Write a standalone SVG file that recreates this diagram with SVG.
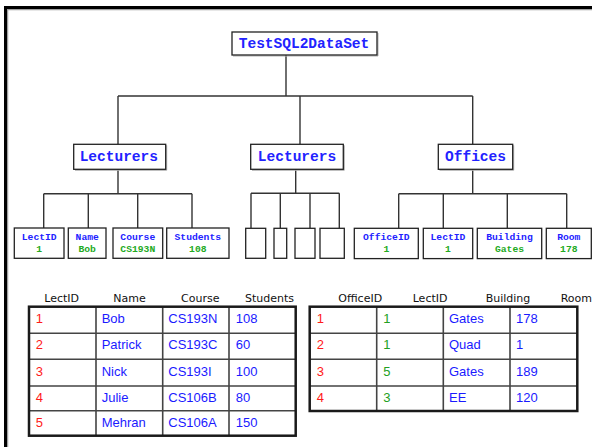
<svg xmlns="http://www.w3.org/2000/svg" width="592" height="447" viewBox="0 0 592 447">
  <style>
    .box { fill: #ffffff; stroke: #222222; stroke-width: 1.3; }
    .shadow { fill: none; stroke: #b0b0b0; stroke-width: 1; }
    .wire { fill: none; stroke: #333333; stroke-width: 1.4; }
    .title { font-family: "Liberation Mono", "Courier New", monospace; font-weight: bold; fill: #2222ff; text-anchor: middle; }
    .big { font-size: 14.5px; }
    .lbl { font-size: 9.7px; fill: #2222ff; }
    .val { font-size: 9.7px; fill: #22aa22; }
    .hdr { font-family: "DejaVu Sans", sans-serif; font-size: 11px; fill: #111111; }
    .cell { font-family: "Liberation Sans", Arial, sans-serif; font-size: 13px; }
    .red { fill: #ff1a1a; }
    .blue { fill: #1a1aff; }
    .green { fill: #22a022; }
    .tframe { fill: none; stroke: #1a1a1a; stroke-width: 2.5; }
    .tline { fill: none; stroke: #444444; stroke-width: 1.6; }
  </style>

  <rect width="592" height="447" fill="#ffffff"/>

  <!-- page frame (top and left edges only) -->
  <path d="M7.5,447 V9.5 H592" fill="none" stroke="#a0a0a0" stroke-width="1.5"/>
  <path d="M5.5,447 V7.5 H592" fill="none" stroke="#000000" stroke-width="3"/>

  <!-- connectors -->
  <g id="connectors" class="wire">
    <path d="M286,55 V96"/>
    <path d="M118,96 H472.7"/>
    <path d="M118,96 V144.3"/>
    <path d="M300,96 V144.3"/>
    <path d="M472.7,96 V144.3"/>

    <path d="M118,169.3 V193.7"/>
    <path d="M43.7,193.7 H192"/>
    <path d="M43.7,193.7 V228"/>
    <path d="M88.3,193.7 V228"/>
    <path d="M137.7,193.7 V228"/>
    <path d="M192,193.7 V228"/>

    <path d="M295.7,169.3 V193.3"/>
    <path d="M251,193.3 H339.3"/>
    <path d="M251,193.3 V228.3"/>
    <path d="M280.3,193.3 V228.3"/>
    <path d="M310,193.3 V228.3"/>
    <path d="M339.3,193.3 V228.3"/>

    <path d="M472.7,169.3 V193.7"/>
    <path d="M398.7,193.7 H566.7"/>
    <path d="M398.7,193.7 V228.3"/>
    <path d="M443.3,193.7 V228.3"/>
    <path d="M507.3,193.7 V228.3"/>
    <path d="M566.7,193.7 V228.3"/>
  </g>

  <!-- root -->
  <g id="root">
    <path class="shadow" d="M233,56 H378 V33"/>
    <rect class="box" x="232" y="32" width="145" height="23"/>
    <text class="title big" x="304" y="48.3">TestSQL2DataSet</text>
  </g>

  <!-- tables -->
  <g id="lecturers-1">
    <path class="shadow" d="M75,170.3 H166.7 V145.3"/>
    <rect class="box" x="73.7" y="144.3" width="92" height="25"/>
    <text class="title big" x="118.8" y="161">Lecturers</text>
  </g>
  <g id="lecturers-2">
    <path class="shadow" d="M252,170.3 H344.3 V145.3"/>
    <rect class="box" x="250.7" y="144.3" width="92.6" height="25"/>
    <text class="title big" x="297" y="161">Lecturers</text>
  </g>
  <g id="offices">
    <path class="shadow" d="M439.5,170.3 H513.7 V145.3"/>
    <rect class="box" x="438.3" y="144.3" width="74.4" height="25"/>
    <text class="title big" x="475.5" y="161">Offices</text>
  </g>

  <!-- columns of Lecturers -->
  <g id="col-lectid">
    <rect class="box" x="14.3" y="228" width="49.7" height="30.3"/>
    <text class="title lbl" x="39.2" y="240">LectID</text>
    <text class="title val" x="39.2" y="251.7">1</text>
  </g>
  <g id="col-name">
    <rect class="box" x="68.3" y="228" width="37.7" height="30.3"/>
    <text class="title lbl" x="87.2" y="240">Name</text>
    <text class="title val" x="87.2" y="251.7">Bob</text>
  </g>
  <g id="col-course">
    <rect class="box" x="113" y="228" width="49.7" height="30.3"/>
    <text class="title lbl" x="137.8" y="240">Course</text>
    <text class="title val" x="137.8" y="251.7">CS193N</text>
  </g>
  <g id="col-students">
    <rect class="box" x="166.7" y="228" width="62.3" height="30.3"/>
    <text class="title lbl" x="197.8" y="240">Students</text>
    <text class="title val" x="197.8" y="251.7">108</text>
  </g>

  <!-- empty columns -->
  <g id="col-empty-1"><rect class="box" x="245.7" y="228.3" width="20" height="30"/></g>
  <g id="col-empty-2"><rect class="box" x="274" y="228.3" width="12.7" height="30"/></g>
  <g id="col-empty-3"><rect class="box" x="295" y="228.3" width="20" height="30"/></g>
  <g id="col-empty-4"><rect class="box" x="320" y="228.3" width="24.3" height="30"/></g>

  <!-- columns of Offices -->
  <g id="col-officeid">
    <rect class="box" x="354.3" y="228.3" width="64" height="30.3"/>
    <text class="title lbl" x="386.3" y="240">OfficeID</text>
    <text class="title val" x="386.3" y="251.7">1</text>
  </g>
  <g id="col-office-lectid">
    <rect class="box" x="423.3" y="228.3" width="49.4" height="30.3"/>
    <text class="title lbl" x="448" y="240">LectID</text>
    <text class="title val" x="448" y="251.7">1</text>
  </g>
  <g id="col-building">
    <rect class="box" x="477.3" y="228.3" width="64.4" height="30.3"/>
    <text class="title lbl" x="509.5" y="240">Building</text>
    <text class="title val" x="509.5" y="251.7">Gates</text>
  </g>
  <g id="col-room">
    <rect class="box" x="546.3" y="228.3" width="45" height="30.3"/>
    <text class="title lbl" x="568.8" y="240">Room</text>
    <text class="title val" x="568.8" y="251.7">178</text>
  </g>

  <!-- Lecturers data grid -->
  <g id="grid-lecturers">
    <text class="hdr" x="44.3" y="301.7">LectID</text>
    <text class="hdr" x="113.3" y="301.7">Name</text>
    <text class="hdr" x="181" y="301.7">Course</text>
    <text class="hdr" x="245" y="301.7">Students</text>

    <path class="tline" d="M96,306.7 V435.7 M162.7,306.7 V435.7 M229,306.7 V435.7"/>
    <path class="tline" d="M29,333.3 H295.7 M29,359.3 H295.7 M29,386 H295.7 M29,410.7 H295.7"/>
    <rect class="tframe" x="29" y="306.7" width="266.7" height="129"/>

    <g class="cell">
      <text class="red" x="35.7" y="323.3">1</text>
      <text class="blue" x="101.7" y="323.3">Bob</text>
      <text class="blue" x="168.3" y="323.3">CS193N</text>
      <text class="blue" x="235.7" y="323.3">108</text>

      <text class="red" x="35.7" y="349">2</text>
      <text class="blue" x="101.7" y="349">Patrick</text>
      <text class="blue" x="168.3" y="349">CS193C</text>
      <text class="blue" x="235.7" y="349">60</text>

      <text class="red" x="35.7" y="376">3</text>
      <text class="blue" x="101.7" y="376">Nick</text>
      <text class="blue" x="168.3" y="376">CS193I</text>
      <text class="blue" x="235.7" y="376">100</text>

      <text class="red" x="35.7" y="401.7">4</text>
      <text class="blue" x="101.7" y="401.7">Julie</text>
      <text class="blue" x="168.3" y="401.7">CS106B</text>
      <text class="blue" x="235.7" y="401.7">80</text>

      <text class="red" x="35.7" y="426.7">5</text>
      <text class="blue" x="101.7" y="426.7">Mehran</text>
      <text class="blue" x="168.3" y="426.7">CS106A</text>
      <text class="blue" x="235.7" y="426.7">150</text>
    </g>
  </g>

  <!-- Offices data grid -->
  <g id="grid-offices">
    <text class="hdr" x="338.3" y="301.7">OfficeID</text>
    <text class="hdr" x="412.7" y="301.7">LectID</text>
    <text class="hdr" x="485.7" y="301.7">Building</text>
    <text class="hdr" x="560.7" y="301.7">Room</text>

    <path class="tline" d="M376.7,306.7 V411 M443.3,306.7 V411 M510,306.7 V411"/>
    <path class="tline" d="M309.7,333.3 H577.3 M309.7,359.3 H577.3 M309.7,386 H577.3"/>
    <rect class="tframe" x="309.7" y="306.7" width="267.6" height="104.3"/>

    <g class="cell">
      <text class="red" x="316.7" y="323.3">1</text>
      <text class="green" x="383.3" y="323.3">1</text>
      <text class="blue" x="449" y="323.3">Gates</text>
      <text class="blue" x="516" y="323.3">178</text>

      <text class="red" x="316.7" y="349">2</text>
      <text class="green" x="383.3" y="349">1</text>
      <text class="blue" x="449" y="349">Quad</text>
      <text class="blue" x="516" y="349">1</text>

      <text class="red" x="316.7" y="376">3</text>
      <text class="green" x="383.3" y="376">5</text>
      <text class="blue" x="449" y="376">Gates</text>
      <text class="blue" x="516" y="376">189</text>

      <text class="red" x="316.7" y="401.7">4</text>
      <text class="green" x="383.3" y="401.7">3</text>
      <text class="blue" x="449" y="401.7">EE</text>
      <text class="blue" x="516" y="401.7">120</text>
    </g>
  </g>
</svg>
